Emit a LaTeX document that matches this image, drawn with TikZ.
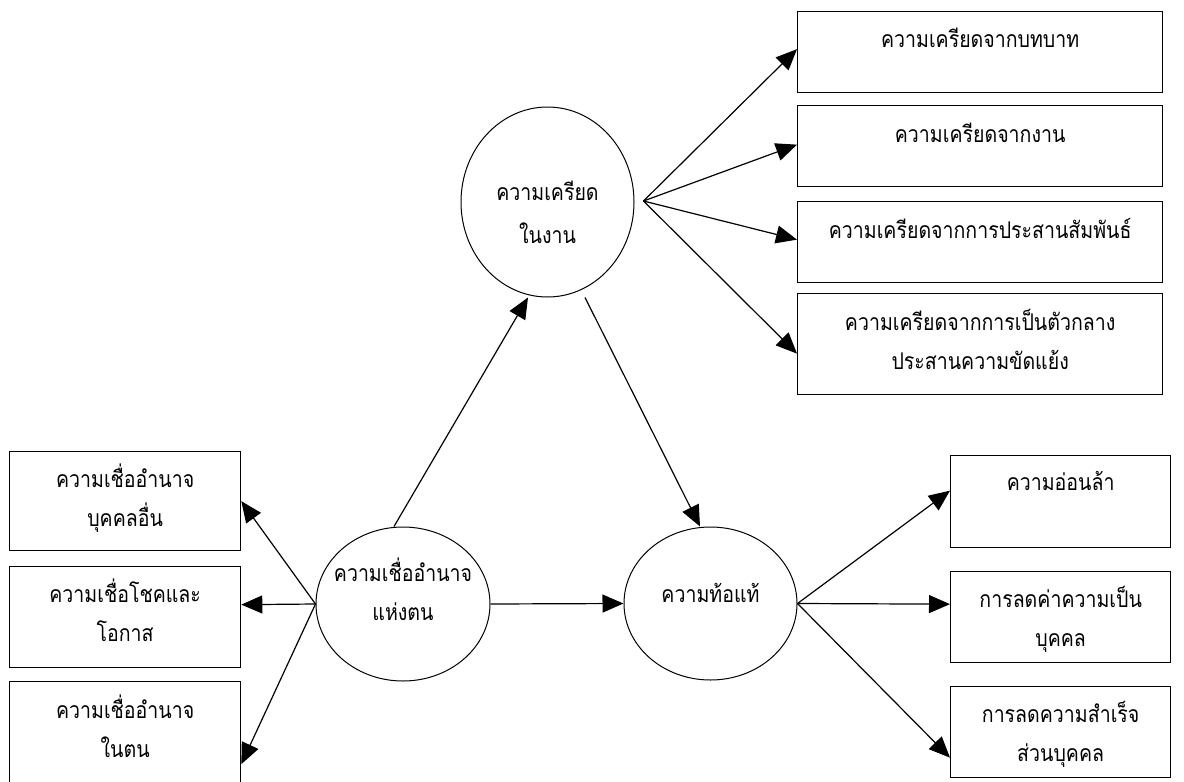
\documentclass[tikz,border=0pt]{standalone}
\usepackage{fontspec}
\newfontfamily\thaifont[Script=Thai, FakeStretch=0.85]{Loma}
\usetikzlibrary{arrows.meta,calc,shapes.geometric}

% box text: width, height, first baseline below top, lines
\newcommand\boxlabel[4]{%
  \parbox[c][#2pt][t]{#1pt}{\centering\rule{0pt}{#3pt}#4}}
% oval text: zero-size block, last baseline raised by #1
\newcommand\ovallabel[2]{%
  \raisebox{#1pt}[0pt][0pt]{\makebox[0pt]{\parbox[b]{220pt}{\centering #2}}}}

\begin{document}
\begin{tikzpicture}[x=1pt,y=-1pt,
  font=\thaifont\fontsize{23pt}{39pt}\selectfont,
  box/.style={draw, line width=1.3pt, inner sep=0pt, anchor=north west},
  oval/.style={draw, ellipse, line width=1pt, inner sep=0pt},
  arr/.style={line width=1.2pt, -{Triangle[length=21pt,width=18pt]}}]
\path[fill=white, use as bounding box] (0,0) rectangle (1184,782);

% stress sources
\node[box] (r1) at (797,11)  {\boxlabel{365}{81}{36}{ความเครียดจากบทบาท}};
\node[box] (r2) at (797,105) {\boxlabel{365}{81}{37}{ความเครียดจากงาน}};
\node[box] (r3) at (797,201) {\boxlabel{365}{81}{37}{ความเครียดจากการประสานสัมพันธ์}};
\node[box] (r4) at (797,293) {\boxlabel{365}{101}{37}{ความเครียดจากการเป็นตัวกลาง\\ประสานความขัดแย้ง}};

% locus of control
\node[box] (l1) at (9,451) {\boxlabel{231}{99}{36}{ความเชื่ออำนาจ\\บุคคลอื่น}};
\node[box] (l2) at (9,566) {\boxlabel{231}{101}{36}{ความเชื่อโชคและ\\โอกาส}};
\node[box] (l3) at (9,681) {\boxlabel{231}{104}{37}{ความเชื่ออำนาจ\\ในตน}};

% burnout dimensions
\node[box] (q1) at (950,455) {\boxlabel{220}{92}{35}{ความอ่อนล้า}};
\node[box] (q2) at (950,571) {\boxlabel{220}{91}{36}{การลดค่าความเป็น\\บุคคล}};
\node[box] (q3) at (950,686) {\boxlabel{220}{91}{36}{การลดความสำเร็จ\\ส่วนบุคคล}};

% latent variables
\node[oval, minimum width=173pt, minimum height=190pt] (stress) at (547.5,202)
  {\ovallabel{-41}{\fontsize{23pt}{43pt}\selectfont ความเครียด\\ในงาน}};
\node[oval, minimum width=174pt, minimum height=154pt] (locus) at (403,604)
  {\ovallabel{-16}{ความเชื่ออำนาจ\\แห่งตน}};
\node[oval, minimum width=173pt, minimum height=153pt] (burn) at (710.5,603.5)
  {\ovallabel{1.5}{ความท้อแท้}};

% connectors
\coordinate (fanS) at ($(stress.east)+(9,-1)$);
\draw[arr] (fanS) -- ($(r1.west)+(0,-3)$);
\draw[arr] (fanS) -- ($(r2.west)+(0,-1.5)$);
\draw[arr] (fanS) -- ($(r3.west)+(0,-2.5)$);
\draw[arr] (fanS) -- ($(r4.west)+(0,9.5)$);

\draw[arr] ($(locus.north)+(-9,0)$) -- ($(stress.south)+(-19.5,0)$);
\draw[arr] ($(stress.south)+(37.5,0)$) -- ($(burn.north)+(-10.5,0)$);
\draw[arr] (locus.east) -- (burn.west);

\draw[arr] (locus.west) -- (l1.east);
\draw[arr] (locus.west) -- ($(l2.east)+(0,-12.5)$);
\draw[arr] (locus.west) -- ($(l3.east)+(0,30.5)$);

\draw[arr] (burn.east) -- ($(q1.west)+(0,-11)$);
\draw[arr] (burn.east) -- ($(q2.west)+(0,-13)$);
\draw[arr] (burn.east) -- ($(q3.west)+(0,25.5)$);
\end{tikzpicture}
\end{document}
